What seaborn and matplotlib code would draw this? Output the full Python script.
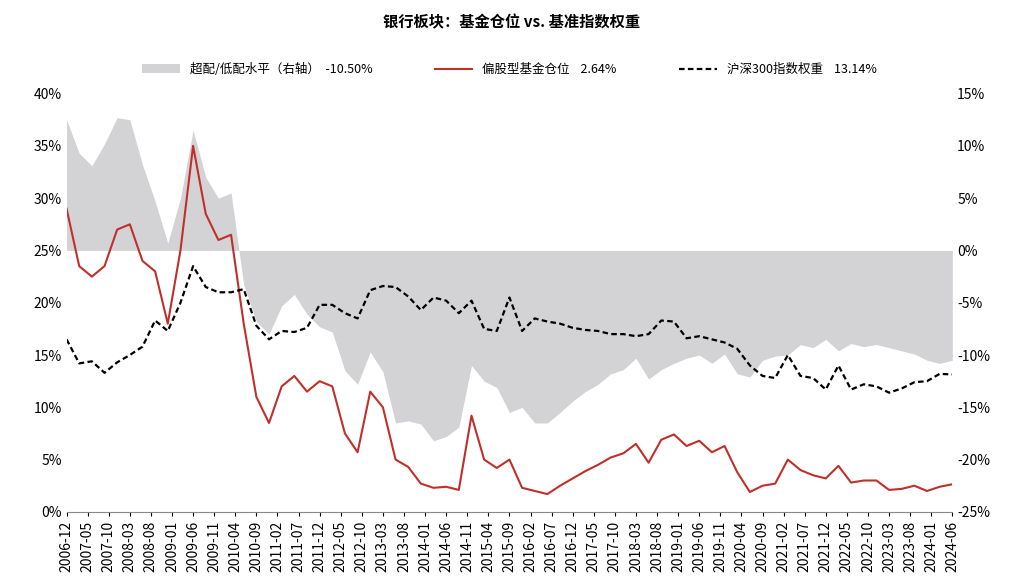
import numpy as np
import pandas as pd
import matplotlib
matplotlib.use("Agg")
import matplotlib.pyplot as plt
import seaborn as sns
from matplotlib.ticker import FuncFormatter

plt.rcParams['font.family'] = 'Noto Sans CJK SC'
plt.rcParams['axes.unicode_minus'] = False

# quarterly data, 2006-12 .. 2024-06
fund_pos = [29.0, 23.5, 22.5, 23.5, 27.0, 27.5, 24.0, 23.0, 18.0, 25.0, 35.0, 28.5,
            26.0, 26.5, 18.0, 11.0, 8.5, 12.0, 13.0, 11.5, 12.5, 12.0, 7.5, 5.7,
            11.5, 10.0, 5.0, 4.3, 2.7, 2.3, 2.4, 2.1, 9.2, 5.0, 4.2, 5.0,
            2.3, 2.0, 1.7, 2.5, 3.2, 3.9, 4.5, 5.2, 5.6, 6.5, 4.7, 6.9,
            7.4, 6.3, 6.8, 5.7, 6.3, 3.8, 1.9, 2.5, 2.7, 5.0, 4.0, 3.5,
            3.2, 4.4, 2.8, 3.0, 3.0, 2.1, 2.2, 2.5, 2.0, 2.4, 2.64]
hs300_w = [16.5, 14.2, 14.4, 13.3, 14.3, 15.0, 15.8, 18.3, 17.3, 20.0, 23.5, 21.5,
           21.0, 21.0, 21.3, 17.8, 16.5, 17.3, 17.2, 17.6, 19.8, 19.8, 19.0, 18.5,
           21.2, 21.6, 21.5, 20.6, 19.3, 20.5, 20.2, 19.0, 20.2, 17.5, 17.3, 20.5,
           17.3, 18.5, 18.2, 18.0, 17.6, 17.4, 17.3, 17.0, 17.0, 16.8, 17.0, 18.3,
           18.2, 16.6, 16.8, 16.5, 16.2, 15.6, 14.0, 13.0, 12.8, 15.0, 13.0, 12.8,
           11.7, 14.0, 11.7, 12.2, 12.0, 11.4, 11.8, 12.4, 12.5, 13.2, 13.14]
tick_labels = [f"{y}-{m:02d}" for y, m in
               [(2006 + (11 + k * 5) // 12, (11 + k * 5) % 12 + 1) for k in range(43)]]

df = pd.DataFrame({"fund": fund_pos, "hs300": hs300_w})
df["month"] = np.arange(len(df)) * 3
df["over"] = df["fund"] - df["hs300"]

fig, ax = plt.subplots(figsize=(10.24, 5.85), dpi=100)
ax2 = ax.twinx()
ax.set_zorder(2); ax.patch.set_visible(False)

ax2.fill_between(df["month"], 0, df["over"], color="#d3d3d6", lw=0,
                 label="超配/低配水平（右轴）  -10.50%")
sns.lineplot(data=df, x="month", y="fund", ax=ax, color="#c0302b", lw=1.5,
             label="偏股型基金仓位    2.64%")
sns.lineplot(data=df, x="month", y="hs300", ax=ax, color="black", lw=1.6,
             linestyle=(0, (2.5, 1.5)), label="沪深300指数权重    13.14%")

ax.set_ylim(0, 40); ax2.set_ylim(-25, 15)
ax.set_yticks(range(0, 41, 5)); ax2.set_yticks(range(-25, 16, 5))
ax.yaxis.set_major_formatter(FuncFormatter(lambda v, p: f"{v:.0f}%"))
ax2.yaxis.set_major_formatter(FuncFormatter(lambda v, p: f"{v:.0f}%"))
ax.set_xlim(0, 210)
ax.set_xticks(range(0, 211, 5))
ax.set_xticklabels(tick_labels, rotation=90, fontsize=9)
ax.set_xlabel(""); ax.set_ylabel("")
for a in (ax, ax2):
    a.tick_params(labelsize=10, length=0)
    for s in a.spines.values():
        s.set_visible(False)
ax.tick_params(axis='x', length=3)
ax.spines['bottom'].set_visible(True)
ax.spines['bottom'].set_color('#888888')

h1, l1 = ax2.get_legend_handles_labels()
h2, l2 = ax.get_legend_handles_labels()
ax.legend(h1 + h2, l1 + l2, loc="upper center", bbox_to_anchor=(0.5, 1.1),
          ncol=3, frameon=False, fontsize=9, columnspacing=5, handlelength=3)
fig.suptitle("银行板块：基金仓位 vs. 基准指数权重", fontsize=11, fontweight='bold', y=0.975)
fig.subplots_adjust(left=0.065, right=0.93, top=0.84, bottom=0.125)
fig.savefig("out.png", dpi=100)
